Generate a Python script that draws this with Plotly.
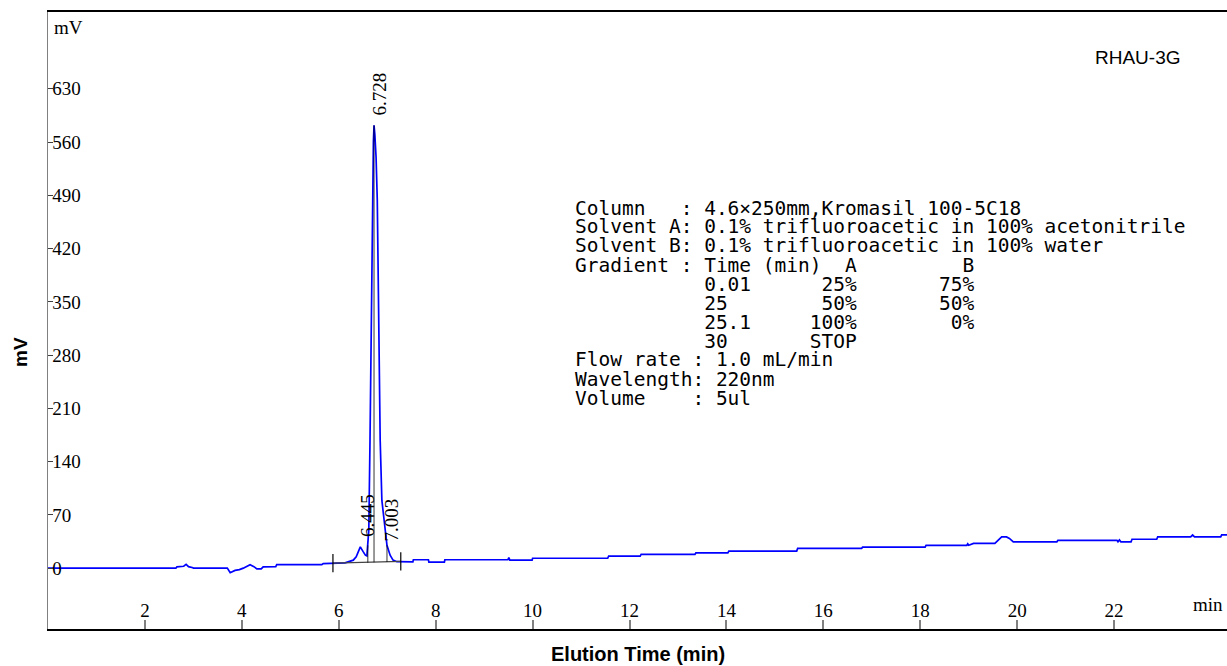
import plotly.graph_objects as go

# ---------------- data ----------------
time_min = [0.0, 2.64, 2.66, 2.80, 2.85, 2.90, 2.99, 3.00, 3.70, 3.76, 3.86, 3.95, 4.03, 4.10,
            4.17, 4.25, 4.31, 4.40, 4.44, 4.70, 4.72, 5.65, 5.68, 6.13, 6.17, 6.25, 6.30, 6.36,
            6.40, 6.445, 6.50, 6.55, 6.58, 6.60, 6.62, 6.645, 6.665, 6.69, 6.715, 6.728, 6.745,
            6.77, 6.795, 6.83, 6.855, 6.89, 6.95, 6.995, 7.06, 7.12, 7.20, 7.53, 7.54, 7.85,
            7.86, 8.18, 8.19, 9.49, 9.51, 9.53, 9.99, 10.00, 11.55, 11.57, 12.22, 12.24, 13.35,
            13.37, 14.03, 14.05, 15.45, 15.47, 16.79, 16.81, 18.10, 18.12, 18.96, 18.98, 19.00,
            19.10, 19.54, 19.62, 19.68, 19.78, 19.84, 19.92, 20.82, 20.84, 22.06, 22.08, 22.11,
            22.14, 22.35, 22.37, 22.88, 22.90, 23.58, 23.62, 23.66, 24.20, 24.22, 24.33]
signal_mv = [0, 0, 1.7, 2.5, 5, 2, 0.5, 0, 0, -6, -3, -2, 0, 2,
             4.5, 2, -1, -1, 1.7, 2, 4.5, 4.5, 6, 7, 8, 9, 10.5, 15,
             21, 28, 22, 17, 16, 30, 50, 168, 300, 484, 560, 582, 570,
             540, 484, 300, 168, 89, 50, 30, 17, 10.5, 8.5, 8.3, 11, 11,
             8, 8, 11, 11, 14, 10.5, 10.5, 13, 13, 15.8, 15.8, 18, 18,
             20, 20, 22.4, 22.4, 26, 26, 27.6, 27.6, 30, 30, 32, 30,
             32.5, 32.5, 38, 41, 41, 39, 34.6, 34.6, 36.5, 36.5, 34.5, 37,
             34.5, 34.5, 38, 38, 41, 41, 43.5, 41, 41, 43.8, 43.8]

# integration baseline (start / end)
base_t = [5.88, 7.28]
base_v = [6.5, 9.0]
# drop lines: time, baseline value, curve value
drop_t = [6.60, 6.728, 6.995]
drop_lo = [7.2, 7.6, 8.0]
drop_hi = [30, 582, 30]

peak_labels = ["6.445", "6.728", "7.003"]
peak_label_t = [6.603, 6.85, 7.098]
peak_label_v = [39, 593, 33]

x_ticks = [2, 4, 6, 8, 10, 12, 14, 16, 18, 20, 22]
y_ticks = [-70, 0, 70, 140, 210, 280, 350, 420, 490, 560, 630]

info_lines = [
    "Column   : 4.6×250mm,Kromasil 100-5C18",
    "Solvent A: 0.1% trifluoroacetic in 100% acetonitrile",
    "Solvent B: 0.1% trifluoroacetic in 100% water",
    "Gradient : Time (min)  A         B",
    "           0.01      25%       75%",
    "           25        50%       50%",
    "           25.1     100%        0%",
    "           30       STOP",
    "Flow rate : 1.0 mL/min",
    "Wavelength: 220nm",
    "Volume    : 5ul",
]

# ---------------- figure ----------------
W, H = 1227, 666
ML, MR, MT, MB = 48, 0, 12, 37
PW, PH = W - ML - MR, H - MT - MB

fig = go.Figure()

fig.add_trace(go.Scatter(x=time_min, y=signal_mv, mode="lines",
                         line=dict(color="#0000ff", width=1.7), hoverinfo="skip"))

# integration baseline
fig.add_trace(go.Scatter(x=base_t, y=base_v, mode="lines",
                         line=dict(color="#444444", width=1.2), hoverinfo="skip"))
# start / end markers
for t, v in zip(base_t, base_v):
    fig.add_trace(go.Scatter(x=[t, t], y=[v - 12, v + 12], mode="lines",
                             line=dict(color="#000000", width=1.2), hoverinfo="skip"))
# drop lines
for t, lo, hi in zip(drop_t, drop_lo, drop_hi):
    fig.add_trace(go.Scatter(x=[t, t], y=[lo, hi], mode="lines",
                             line=dict(color="#000000", width=0.8), hoverinfo="skip"))

annotations = []
serif = "Liberation Serif"
for txt, t, v in zip(peak_labels, peak_label_t, peak_label_v):
    annotations.append(dict(x=t, y=v, xref="x", yref="y", text=txt, showarrow=False,
                            textangle=-90, xanchor="center", yanchor="bottom",
                            font=dict(family=serif, size=19, color="#000000")))


def px_x(p):
    return (p - ML) / PW


def px_y(p):
    return (H - MB - p) / PH


for i, line in enumerate(info_lines):
    annotations.append(dict(x=px_x(573), y=px_y(208 + 19 * i), xref="paper", yref="paper",
                            text=line.replace(" ", "&nbsp;"), showarrow=False,
                            xanchor="left", yanchor="middle",
                            font=dict(family="DejaVu Sans Mono", size=19.5, color="#000000")))

annotations += [
    dict(x=px_x(52), y=px_y(27), xref="paper", yref="paper", text="mV", showarrow=False,
         xanchor="left", yanchor="middle", font=dict(family=serif, size=19, color="#000")),
    dict(x=px_x(1225), y=px_y(604), xref="paper", yref="paper", text="min", showarrow=False,
         xanchor="right", yanchor="middle", font=dict(family=serif, size=19, color="#000")),
    dict(x=px_x(1138), y=px_y(57), xref="paper", yref="paper", text="RHAU-3G", showarrow=False,
         xanchor="center", yanchor="middle",
         font=dict(family="Liberation Sans", size=19, color="#000")),
    dict(x=px_x(20), y=px_y(352), xref="paper", yref="paper", text="<b>mV</b>", showarrow=False,
         textangle=-90, xanchor="center", yanchor="middle",
         font=dict(family="Liberation Sans", size=19, color="#000")),
    dict(x=px_x(638), y=px_y(654), xref="paper", yref="paper", text="<b>Elution Time (min)</b>",
         showarrow=False, xanchor="center", yanchor="middle",
         font=dict(family="Liberation Sans", size=20, color="#000")),
]

fig.update_layout(
    width=W, height=H,
    margin=dict(l=ML, r=MR, t=MT, b=MB, pad=0),
    paper_bgcolor="white", plot_bgcolor="white",
    showlegend=False,
    annotations=annotations,
    xaxis=dict(range=[0, 24.33], tickvals=x_ticks, ticktext=[str(v) for v in x_ticks],
               ticks="inside", ticklen=9, tickwidth=2, tickcolor="#808080",
               ticklabelposition="inside", showgrid=False, zeroline=False,
               showline=True, linecolor="#000000", linewidth=2, mirror=True,
               tickfont=dict(family=serif, size=19, color="#000000")),
    yaxis=dict(range=[-80, 731], tickvals=y_ticks, ticktext=[str(v) for v in y_ticks],
               ticks="inside", ticklen=5, tickwidth=1, tickcolor="#404040",
               ticklabelposition="inside", showgrid=False, zeroline=False,
               showline=True, linecolor="#808080", linewidth=1,
               tickfont=dict(family=serif, size=19, color="#000000")),
)

fig.write_html("out.html", config={"displayModeBar": False},
               post_script="document.body.style.margin='0';document.body.style.overflow='hidden';")
